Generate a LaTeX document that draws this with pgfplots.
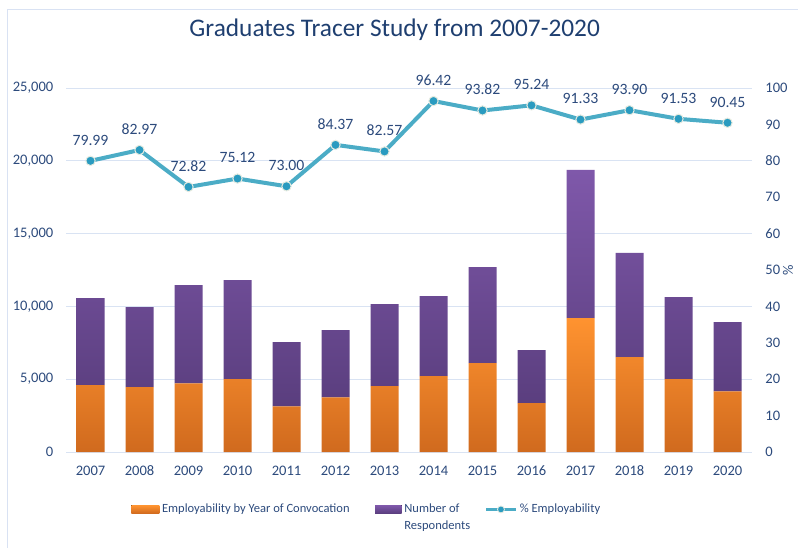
\documentclass[border=0pt]{standalone}
\usepackage{pgfplots}
\pgfplotsset{compat=1.18}
\usepackage{pgfplotstable}
\usepackage{fontspec}
\setmainfont{Carlito}

\definecolor{txt}{HTML}{2C4A7C}
\definecolor{titlec}{HTML}{1F3F70}
\definecolor{gridc}{HTML}{D9E3F3}
\definecolor{framec}{HTML}{D9E2F3}
\definecolor{orTop}{HTML}{FF9330}
\definecolor{orBot}{HTML}{D06A1E}
\definecolor{puTop}{HTML}{7F58AA}
\definecolor{puBot}{HTML}{5A3E7E}
\definecolor{lineC}{HTML}{4BACC6}
\definecolor{markC}{HTML}{2A9BC0}
\definecolor{markE}{HTML}{E6EBE0}

% year index, employability, respondents (stacked part), % employability
\pgfplotstableread{
x emp resp pct lab
0 4590 5980 79.99 79.99
1 4450 5500 82.97 82.97
2 4720 6740 72.82 72.82
3 5000 6810 75.12 75.12
4 3140 4400 73.00 73.00
5 3760 4610 84.37 84.37
6 4520 5640 82.57 82.57
7 5210 5500 96.42 96.42
8 6100 6600 93.82 93.82
9 3350 3640 95.24 95.24
10 9190 10180 91.33 91.33
11 6510 7160 93.90 93.90
12 5000 5640 91.53 91.53
13 4170 4750 90.45 90.45
}\data

\begin{document}
\begin{tikzpicture}
\path[use as bounding box] (0,0) rectangle (598.5pt,410.25pt);
\draw[framec, line width=0.75pt] (5.25pt,402.75pt) rectangle (640pt,-30pt);
\node[anchor=base, text=titlec, font=\fontsize{19}{23}\selectfont] at (296pt,382.7pt)
  {Graduates Tracer Study from 2007-2020};

\begin{axis}[
    at={(49.5pt,71.25pt)}, anchor=south west,
    scale only axis, width=514.5pt, height=273pt,
    ybar stacked, bar width=21pt,
    xmin=-0.5, xmax=13.5, ymin=0, ymax=25000,
    xtick={0,...,13},
    xticklabels={2007,2008,2009,2010,2011,2012,2013,2014,2015,2016,2017,2018,2019,2020},
    ytick={0,5000,...,25000},
    scaled y ticks=false,
    /pgf/number format/1000 sep={,},
    ymajorgrids, grid style={gridc, line width=0.75pt},
    axis line style={draw=none}, major tick length=0pt,
    /pgf/number format/assume math mode=true,
    tick label style={text=txt, font=\fontsize{10.9}{13}\selectfont},
    xticklabel style={yshift=-6.8pt},
    yticklabel style={xshift=-6pt},
]
\addplot[draw=none, top color=orTop, bottom color=orBot] table[x=x, y=emp]{\data};
\addplot[draw=none, top color=puTop, bottom color=puBot] table[x=x, y=resp]{\data};
\end{axis}

\begin{axis}[
    at={(49.5pt,71.25pt)}, anchor=south west,
    scale only axis, width=514.5pt, height=273pt,
    xmin=-0.5, xmax=13.5, ymin=0, ymax=100,
    axis x line=none, axis y line*=right,
    axis line style={draw=none}, major tick length=0pt,
    ytick={0,10,...,100},
    /pgf/number format/assume math mode=true,
    tick label style={text=txt, font=\fontsize{10.9}{13}\selectfont},
    yticklabel style={xshift=6.5pt},
    ylabel={\%},
    ylabel style={at={(rel axis cs:1,0.5)}, anchor=center, yshift=-27pt,
        inner sep=0pt, text=txt, font=\fontsize{10.9}{13}\selectfont},
    legend columns=3,
    legend style={at={(rel axis cs:0.095,-0.135)}, anchor=north west,
        draw=none, fill=none, inner sep=0pt,
        text=txt, font=\fontsize{9.4}{12.2}\selectfont,
        cells={anchor=west},
        /tikz/every even column/.append style={column sep=17pt}},
]
\addlegendimage{draw=none,
    legend image code/.code={\fill[top color=orTop, bottom color=orBot] (0pt,-3pt) rectangle (21pt,3pt);}}
\addlegendentry{Employability by Year of Convocation}
\addlegendimage{draw=none,
    legend image code/.code={\fill[top color=puTop, bottom color=puBot] (0pt,-3pt) rectangle (20pt,3pt);}}
\addlegendentry{\makebox[0pt][l]{\smash{\raisebox{-12.2pt}{Respondents}}}Number of}
\addplot[lineC, line width=3pt, mark=*, mark size=3.5pt,
    mark options={fill=markC, draw=markE, line width=0.75pt},
    nodes near coords, point meta=explicit symbolic,
    every node near coord/.style={anchor=south, inner sep=0pt, yshift=11.25pt,
        text=txt, font=\fontsize{11.8}{14}\selectfont},
    legend image code/.code={\draw[lineC, line width=2.2pt] (0pt,0pt) -- (22pt,0pt);
        \fill[markC, draw=markE, line width=0.6pt] (11pt,0pt) circle (2.6pt);}]
    table[x=x, y=pct, meta=lab]{\data};
\addlegendentry{\% Employability}
\end{axis}
\end{tikzpicture}
\end{document}
